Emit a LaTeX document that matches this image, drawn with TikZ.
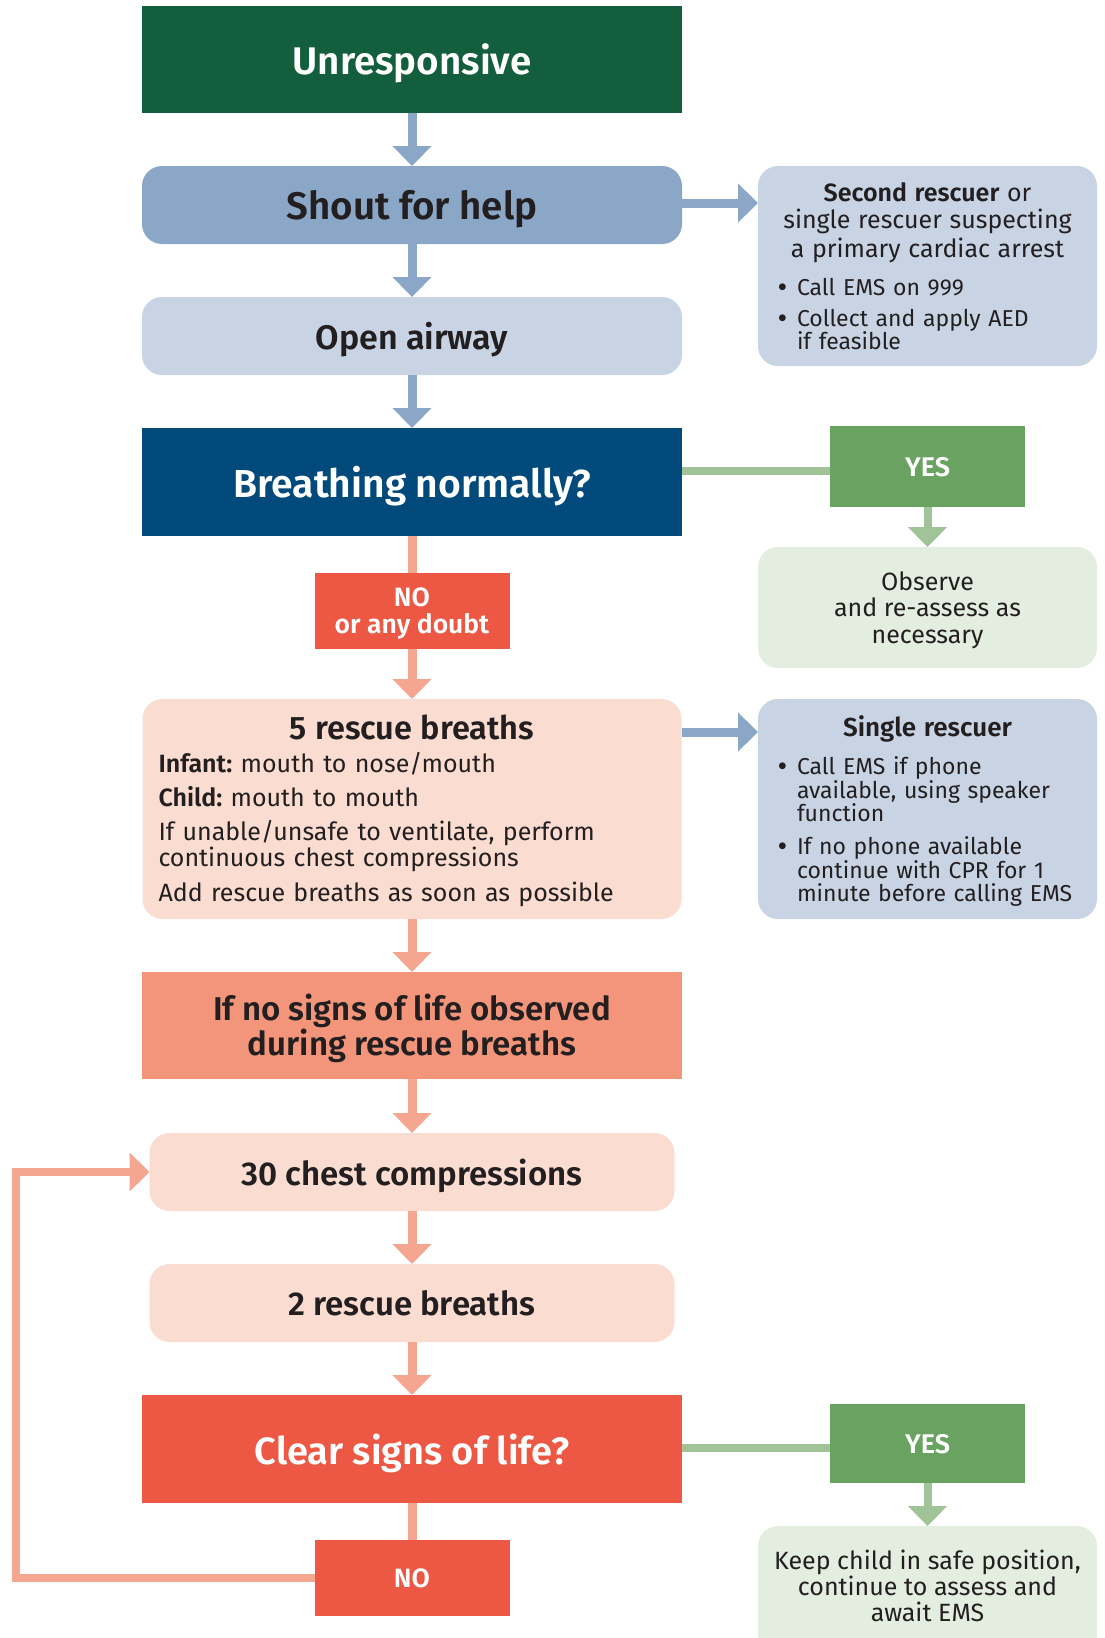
\documentclass[tikz,border=0pt]{standalone}
\usepackage{fontspec}
\setmainfont{Fira Sans}
\newcommand\SB{\bfseries}
\IfFontExistsTF{Fira Sans SemiBold}{\newfontfamily\firasemi{Fira Sans SemiBold}\renewcommand\SB{\firasemi}}{}
\usetikzlibrary{arrows.meta,calc}
\frenchspacing
\definecolor{dgreen}{HTML}{135E3D}
\definecolor{mblue}{HTML}{8AA7C8}
\definecolor{lblue}{HTML}{C8D4E4}
\definecolor{navy}{HTML}{024A7B}
\definecolor{ygreen}{HTML}{6AA361}
\definecolor{lgreen}{HTML}{A0C497}
\definecolor{pgreen}{HTML}{E3EDE0}
\definecolor{nred}{HTML}{EC5843}
\definecolor{salm}{HTML}{F5A690}
\definecolor{pinkbg}{HTML}{FADCD0}
\definecolor{coral}{HTML}{F3957A}
\definecolor{ink}{HTML}{231F20}
\newcommand\FZ[2]{\fontsize{#1pt}{#2pt}\selectfont}
\newcommand\bul{\makebox[19.5pt][l]{\raisebox{-1.8pt}{\FZ{30}{30}\textbullet}}}
\newcommand\ind{\hspace*{19.5pt}}
\newcommand\tp{\rule{0pt}{32pt}}
\tikzset{
  base/.style={inner sep=0pt, outer sep=0pt, align=center, text=ink},
  sq/.style={base, text depth=0pt},
  rd/.style={base, text depth=0pt, rounded corners=20pt},
  txt/.style={base, anchor=north},
  tip/.style={-{Triangle[width=38pt,length=20pt]}},
  barr/.style={draw=mblue, line width=9pt, tip},
  sarr/.style={draw=salm, line width=9pt, tip},
  sline/.style={draw=salm, line width=9pt},
  garr/.style={draw=lgreen, line width=8pt, tip},
  gline/.style={draw=lgreen, line width=8pt},
  loopl/.style={draw=salm, line width=8pt, tip},
}
\begin{document}
\begin{tikzpicture}[x=1pt,y=-1pt]
\clip (0,0) rectangle (1105,1638);
\fill[white] (0,0) rectangle (1105,1638);
% main column
\node[sq, fill=dgreen, text=white, minimum width=540pt, minimum height=107pt, font=\FZ{38.5}{42}\SB] (unresp) at (412,59.5) {Unresponsive};
\node[rd, fill=mblue, minimum width=540pt, minimum height=78pt, font=\FZ{38.5}{42}\SB] (shout) at (412,205) {Shout for help};
\node[rd, fill=lblue, minimum width=540pt, minimum height=78pt, font=\FZ{34}{38}\SB] (open) at (412,336) {Open airway};
\node[sq, fill=navy, text=white, minimum width=540pt, minimum height=108pt, font=\FZ{39}{42}\SB] (breath) at (412,482) {Breathing normally?};
\node[sq, fill=nred, minimum width=195pt, minimum height=76pt] (no1) at (412,611) {};
\node[txt, text=white, font=\FZ{26.5}{26.7}\SB] (no1t) at (412,574.7) {\tp NO\\or any doubt};
\node[rd, fill=pinkbg, minimum width=539pt, minimum height=220pt] (five) at (412,809) {};
\node[txt, text width=507pt, align=left, font=\FZ{25}{26.7}] (fivet) at (412,707)
 {\tp\makebox[507pt][c]{\FZ{32.5}{34}\SB 5 rescue breaths}\\[7pt]
  {\SB Infant:} mouth to nose/mouth\\[7.3pt]
  {\SB Child:} mouth to mouth\\[6.6pt]
  If unable/unsafe to ventilate, perform\\
  continuous chest compressions\\[8.3pt]
  Add rescue breaths as soon as possible};
\node[sq, fill=coral, minimum width=540pt, minimum height=107pt] (ifno) at (412,1025.5) {};
\node[txt, font=\FZ{33}{35}\SB] (ifnot) at (412,988) {\tp If no signs of life observed\\during rescue breaths};
\node[rd, fill=pinkbg, minimum width=525pt, minimum height=78pt, font=\FZ{33}{36}\SB] (thirty) at (412,1172) {30 chest compressions};
\node[rd, fill=pinkbg, minimum width=525pt, minimum height=78pt, font=\FZ{33}{36}\SB] (two) at (412,1303) {2 rescue breaths};
\node[sq, fill=nred, text=white, minimum width=540pt, minimum height=108pt, font=\FZ{38}{42}\SB] (clear) at (412,1449) {Clear signs of life?};
\node[sq, fill=nred, text=white, minimum width=195pt, minimum height=76pt, font=\FZ{26.5}{30}\SB] (no2) at (412,1578) {NO};
% right column
\node[rd, fill=lblue, minimum width=339pt, minimum height=200pt] (second) at (927.5,266) {};
\node[txt, text width=300pt, align=left, font=\FZ{23}{23.5}] (secondt) at (927.5,169.5)
 {\tp\makebox[300pt][c]{\FZ{25}{26}{\SB Second rescuer} or}\\[3.2pt]
  \makebox[300pt][c]{\FZ{25}{26}single rescuer suspecting}\\[3.2pt]
  \makebox[300pt][c]{\FZ{25}{26}a primary cardiac arrest}\\[14.5pt]
  \bul Call EMS on 999\\[7.5pt]
  \bul Collect and apply AED\\
  \ind if feasible};
\node[sq, fill=ygreen, text=white, minimum width=195pt, minimum height=81pt, font=\FZ{27}{30}\SB] (yes1) at (927.5,466.5) {YES};
\node[rd, fill=pgreen, minimum width=339pt, minimum height=121pt] (observe) at (927.5,607.5) {};
\node[txt, font=\FZ{25}{26.5}] (observet) at (927.5,558) {\tp Observe\\and re-assess as\\necessary};
\node[rd, fill=lblue, minimum width=339pt, minimum height=220pt] (single) at (927.5,809) {};
\node[txt, text width=300pt, align=left, font=\FZ{23}{23.5}] (singlet) at (927.5,704)
 {\tp\makebox[300pt][c]{\FZ{26}{27}\SB Single rescuer}\\[14pt]
  \bul Call EMS if phone\\
  \ind available, using speaker\\
  \ind function\\[9.5pt]
  \bul If no phone available\\
  \ind continue with CPR for 1\\
  \ind minute before calling EMS};
\node[sq, fill=ygreen, text=white, minimum width=195pt, minimum height=79pt, font=\FZ{27}{30}\SB] (yes2) at (927.5,1443.5) {YES};
\node[rd, fill=pgreen, minimum width=339pt, minimum height=200pt, anchor=north] (keep) at (927.5,1526) {};
\node[txt, font=\FZ{25}{26}] (keept) at (927.5,1537) {\tp Keep child in safe position,\\continue to assess and\\await EMS};
% connectors
\draw[barr] (unresp.south) -- (shout.north);
\draw[barr] (shout.south) -- (open.north);
\draw[barr] (open.south) -- (breath.north);
\draw[barr] ([yshift=2pt]shout.east) -- ([yshift=2pt]shout.east -| second.west);
\draw[gline] ([yshift=-4.5pt]yes1.west -| breath.east) -- ([yshift=-4.5pt]yes1.west);
\draw[garr] (yes1.south) -- (observe.north);
\draw[sline] (breath.south) -- (no1.north);
\draw[sarr] (no1.south) -- (five.north);
\coordinate (fe) at ($(five.north east)+(0,33)$);
\draw[barr] (fe) -- (fe -| single.west);
\draw[sarr] (five.south) -- (ifno.north);
\draw[sarr] (ifno.south) -- (thirty.north);
\draw[sarr] (thirty.south) -- (two.north);
\draw[sarr] (two.south) -- (clear.north);
\draw[sline] (clear.south) -- (no2.north);
\coordinate (lp) at (16,1578);
\draw[loopl] (no2.west) -- (lp) |- (thirty.west);
\draw[gline] ([yshift=-4pt]yes2.west -| clear.east) -- ([yshift=-4pt]yes2.west);
\draw[garr] (yes2.south) -- (keep.north);
\end{tikzpicture}
\end{document}
